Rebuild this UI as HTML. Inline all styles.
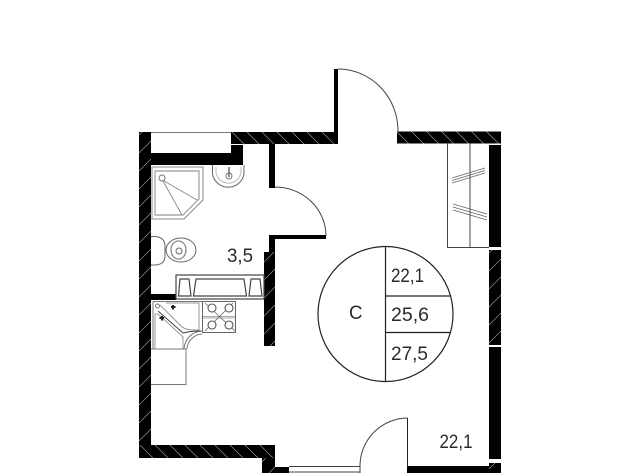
<!DOCTYPE html>
<html><head><meta charset="utf-8"><style>
html,body{margin:0;padding:0;background:#fff}
svg{display:block}
text{font-family:"Liberation Sans",sans-serif;font-size:19px;fill:#2a2a2a}
</style></head><body>
<svg width="640" height="473" viewBox="0 0 640 473" xmlns="http://www.w3.org/2000/svg">
<defs>
<pattern id="a" width="18" height="18" patternUnits="userSpaceOnUse" patternTransform="translate(139 135)">
<rect width="18" height="18" fill="#000"/><path d="M-1 19L19 -1" stroke="#fff" stroke-width=".6" opacity=".7"/></pattern>
<pattern id="b" width="15" height="15" patternUnits="userSpaceOnUse" patternTransform="translate(232 132)">
<rect width="15" height="15" fill="#000"/><path d="M-1 -1L16 16" stroke="#fff" stroke-width=".6" opacity=".7"/></pattern>
</defs>
<rect width="640" height="473" fill="#fff"/>

<!-- walls -->
<rect x="139" y="132" width="12" height="326" fill="url(#a)"/>
<rect x="151" y="132" width="80" height="1" fill="#777"/>
<rect x="231" y="132" width="106" height="12" fill="url(#b)"/>
<rect x="397" y="131.500" width="104" height="12" fill="url(#b)"/>
<rect x="334" y="69" width="4" height="75" fill="#000"/>
<rect x="151" y="153" width="92" height="12" fill="#000"/>
<rect x="231" y="145" width="12" height="10" fill="#000"/>
<rect x="269" y="144" width="6" height="44" fill="#000"/>
<rect x="275" y="235" width="51" height="4" fill="#000"/>
<rect x="269" y="235" width="6" height="17" fill="#000"/>
<rect x="264" y="252" width="11" height="94" fill="url(#a)"/>
<rect x="151" y="294" width="25" height="6" fill="#000"/>
<rect x="139" y="445" width="136" height="13" fill="url(#b)"/>
<rect x="262" y="458" width="13" height="15" fill="url(#a)"/>
<rect x="275" y="467" width="14" height="6" fill="#000"/>
<rect x="407" y="466" width="82" height="7" fill="#000"/>
<rect x="489" y="145" width="12" height="102" fill="#000"/>
<rect x="489" y="250" width="12" height="95" fill="url(#a)"/>
<rect x="489" y="347" width="12" height="112" fill="#000"/>
<rect x="489" y="463" width="12" height="10" fill="url(#a)"/>

<!-- doors -->
<g fill="none" stroke="#444" stroke-width="1">
<path d="M338 69A60 62 0 0 1 398 132"/>
<path d="M275 187A51 49 0 0 1 326 236"/>
<path d="M407.500 418A48 48 0 0 0 360 466V473"/>
<path d="M407.500 418V467" stroke="#222"/>
<path d="M289 466.500H360M289 472H360"/>
</g>

<!-- wardrobe -->
<g fill="none" stroke="#444" stroke-width="1">
<path d="M447.500 143V247.500H489M470 143V247.500"/>
<g stroke="#666" stroke-width=".8">
<path d="M452 178L485 168M452 180.500L485 170.500M452 183L485 173"/>
<path d="M453 204L487 214M453 207L487 217M453 210L487 220"/>
</g>
</g>

<!-- shower -->
<g fill="none" stroke="#888">
<path d="M152 167H203V200L184 219H152Z" stroke-width="1"/>
<path d="M155 171H199V199L183 215H155Z" stroke-width="1.400" stroke="#aaa"/>
<circle cx="162" cy="178" r="3" stroke="#777"/>
<path d="M164 181L197 200M163 181L182 215" stroke="#888" stroke-width=".9"/>
</g>

<!-- basin -->
<g fill="none">
<path d="M212.500 165V174A16 16 0 0 0 244 174V165" stroke="#666" stroke-width="1"/>
<path d="M216 167V173A13 14 0 0 0 241 173V167" stroke="#bbb" stroke-width="1"/>
<circle cx="229" cy="176" r="3" stroke="#777"/>
<path d="M229 167V177" stroke="#555" stroke-width="1.300"/>
</g>

<!-- toilet -->
<g fill="none" stroke="#666">
<path d="M151 236.500H156Q165 238 165 246V256Q165 264 156 265H151" stroke-width="1"/>
<ellipse cx="181" cy="250" rx="15" ry="12"/>
<ellipse cx="178.500" cy="250" rx="7.500" ry="9" stroke="#888" stroke-width="1.300"/>
<circle cx="179" cy="251" r="3"/>
</g>

<!-- bath/cabinet -->
<g fill="none" stroke="#444">
<rect x="176" y="275" width="88" height="24" stroke-width="1.200"/>
<path d="M178.500 296L180 279H189L191 296Z" stroke-width="1.200"/>
<path d="M193.500 296L196 279H244L246.500 296Z" stroke-width="1.200"/>
<path d="M249 296L251 279H260L262 296Z" stroke-width="1.200"/>
</g>

<!-- kitchen -->
<g fill="none" stroke="#777" stroke-width="1">
<path d="M151 349H186V384.500H151" />
<path d="M153 301.500H202M153 301.500V349"/>
<path d="M184 349A19 19 0 0 1 202 331"/>
<path d="M187 349A16 16 0 0 1 202 334"/>
<path d="M155 349V314H158L183 337V349" stroke="#999"/>
<path d="M166 303H199V330H192Q184 330 179 324L160 305" stroke="#999"/>
<path d="M158 311L183 333Q190 331 201 331" stroke="#444"/>
<circle cx="157.500" cy="306" r="2"/>
<path d="M171 307h4.500M173 305v4.500M159.500 318h4.500M162 316v4.500" stroke="#222" stroke-width="2"/>
<rect x="202.500" y="301.500" width="33" height="31" stroke="#666"/>
<path d="M203 316.500H235M203 318H235" stroke="#aaa"/>
<path d="M205 303L235 331M233 303L205 331" stroke="#666" stroke-width=".8"/>
<g stroke="#555" fill="#fff" stroke-width="1.100">
<circle cx="212" cy="308" r="4"/><circle cx="229" cy="308" r="4"/>
<circle cx="212" cy="325" r="4"/><circle cx="229" cy="325" r="4"/>
</g>
</g>

<!-- circle -->
<g fill="none" stroke="#222" stroke-width="1.200">
<circle cx="385.500" cy="314" r="67.500"/>
<path d="M385.500 246.500V381.500M385.500 296H450M385.500 332.500H450"/>
</g>

<!-- labels -->
<text x="227" y="262" textLength="26" lengthAdjust="spacingAndGlyphs">3,5</text>
<text x="349" y="319" textLength="13.500" lengthAdjust="spacingAndGlyphs">C</text>
<text x="391" y="282" textLength="33" lengthAdjust="spacingAndGlyphs">22,1</text>
<text x="391" y="321" textLength="38" lengthAdjust="spacingAndGlyphs">25,6</text>
<text x="391" y="360" textLength="37" lengthAdjust="spacingAndGlyphs">27,5</text>
<text x="439.500" y="448" textLength="33" lengthAdjust="spacingAndGlyphs">22,1</text>
</svg>
</body></html>
